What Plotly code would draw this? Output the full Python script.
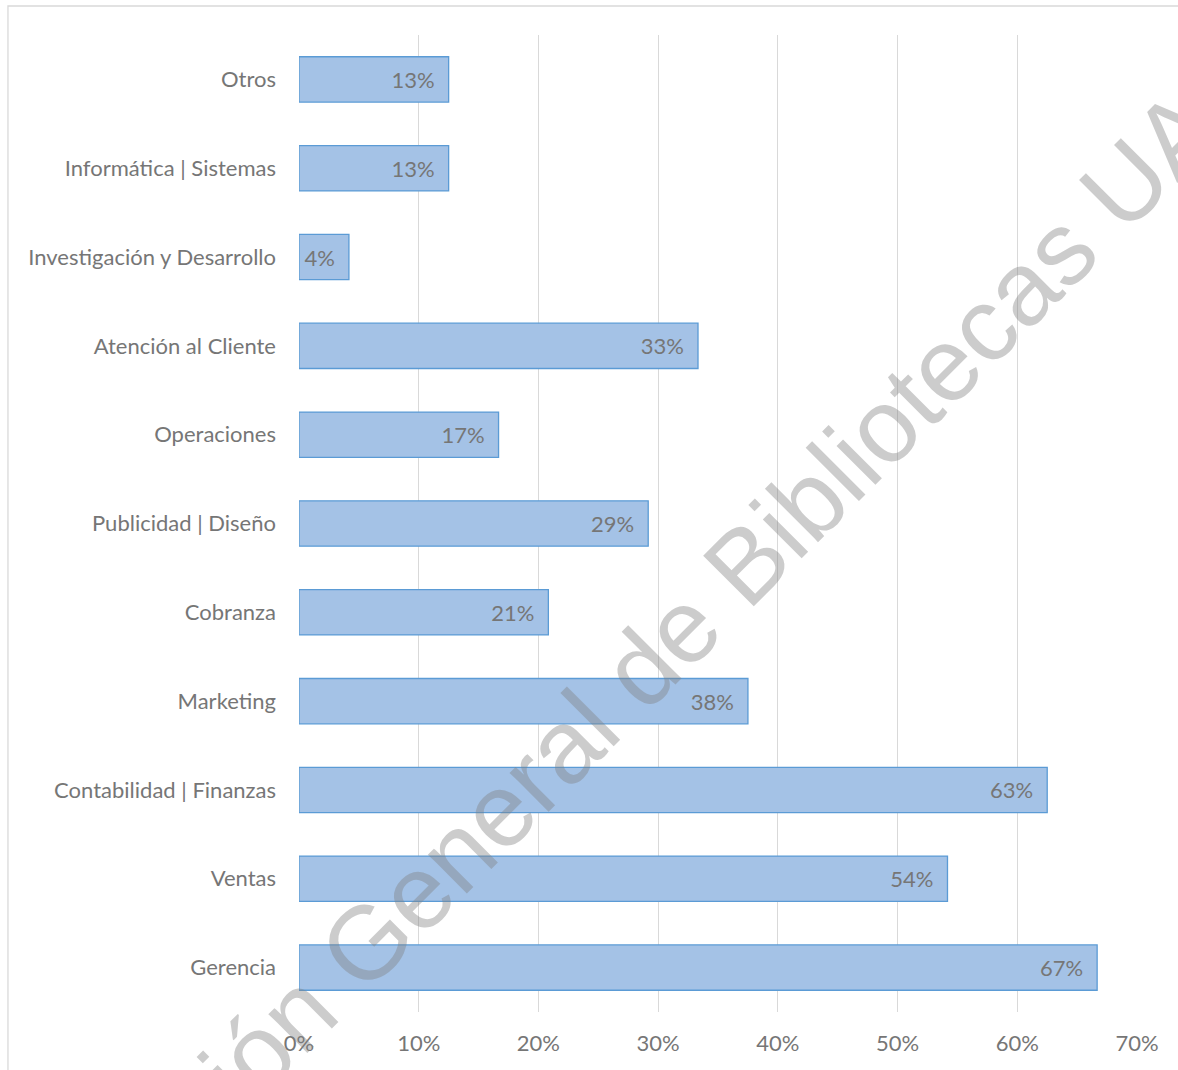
import plotly.graph_objects as go

# Share of respondents by functional area (listed top to bottom)
areas = [
    "Otros",
    "Informática | Sistemas",
    "Investigación y Desarrollo",
    "Atención al Cliente",
    "Operaciones",
    "Publicidad | Diseño",
    "Cobranza",
    "Marketing",
    "Contabilidad | Finanzas",
    "Ventas",
    "Gerencia",
]
shares = [0.125, 0.125, 0.0417, 0.3333, 0.1667, 0.2917, 0.2083, 0.375, 0.625, 0.5417, 0.6667]

x_ticks = [0, 0.1, 0.2, 0.3, 0.4, 0.5, 0.6, 0.7]
x_tick_labels = ["0%", "10%", "20%", "30%", "40%", "50%", "60%", "70%"]

watermark = "Dirección General de Bibliotecas UAQ"

TEXT_GREY = "#767676"
FONT = "Lato"

fig = go.Figure()

fig.add_trace(
    go.Bar(
        x=shares,
        y=areas,
        orientation="h",
        marker=dict(color="#a4c2e6", line=dict(color="#5b9bd5", width=1.3)),
        texttemplate="%{x:.0%}\u2002",
        textposition="inside",
        insidetextanchor="end",
        insidetextfont=dict(family=FONT, size=22, color=TEXT_GREY),
        constraintext="none",
        hoverinfo="skip",
    )
)

fig.update_layout(
    width=1178,
    height=1070,
    margin=dict(l=299, r=41, t=35, b=58),
    paper_bgcolor="white",
    plot_bgcolor="white",
    bargap=0.49,
    showlegend=False,
    font=dict(family=FONT, size=22, color=TEXT_GREY),
    xaxis=dict(
        range=[0, 0.7],
        tickvals=x_ticks,
        ticktext=x_tick_labels,
        showgrid=True,
        gridcolor="#d9d9d9",
        gridwidth=1.3,
        zeroline=False,
        showline=False,
        ticks="",
        ticklabelstandoff=16,
        tickfont=dict(family=FONT, size=22, color=TEXT_GREY),
    ),
    yaxis=dict(
        autorange="reversed",
        showgrid=False,
        zeroline=False,
        showline=False,
        ticks="",
        ticklabelstandoff=22,
        tickfont=dict(family=FONT, size=22, color=TEXT_GREY),
    ),
    shapes=[
        # light frame around the chart area
        dict(
            type="rect",
            xref="paper",
            yref="paper",
            x0=-0.3473,
            x1=1.0513,
            y0=-0.07,
            y1=1.0297,
            line=dict(color="#d9d9d9", width=1.3),
            fillcolor="rgba(0,0,0,0)",
            layer="below",
        ),
    ],
    annotations=[
        dict(
            text=watermark,
            xref="paper",
            yref="paper",
            x=0.40,
            y=0.345,
            showarrow=False,
            textangle=-45,
            font=dict(family="Liberation Sans", size=104, color="rgba(128,128,128,0.4)"),
            xanchor="center",
            yanchor="middle",
        )
    ],
)

fig.write_html("out.html")
